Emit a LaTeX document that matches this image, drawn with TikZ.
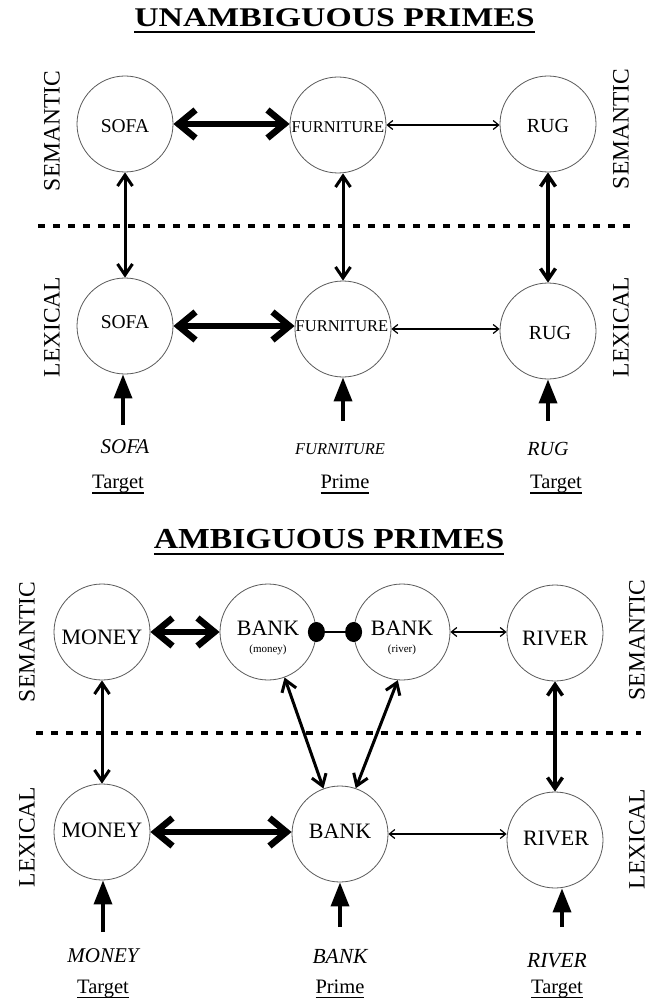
\documentclass[tikz,border=0pt]{standalone}
\usepackage{fontspec}
\setmainfont{Liberation Serif}
\usepackage{graphicx}
\usetikzlibrary{arrows.meta,calc}
\newcommand\myul[3]{\setbox0\hbox{#3}\rlap{\rule[#1]{\wd0}{#2}}\box0}
\newcommand\fsz[1]{\fontsize{#1}{#1}\selectfont}
\begin{document}
\begin{tikzpicture}[x=1pt,y=-1pt]
\tikzset{
  circ/.style={circle, draw=black!65, line width=0.8pt, minimum size=96pt, inner sep=0pt},
  txt/.style={inner sep=0pt},
  thickarr/.style={line width=6.5pt, line join=miter, >={Straight Barb[length=17pt,width=28pt]}, <->},
  medarr/.style={line width=3pt, line join=miter, >={Straight Barb[length=11pt,width=15pt]}, <->},
  thinarr/.style={line width=1.2pt, >={Straight Barb[length=5.5pt,width=9pt]}, <->},
  inarr/.style={line width=3.5pt, arrows={-Triangle[length=24pt,width=18pt]}},
  dotline/.style={line width=2.5pt, arrows={Circle[length=17pt,width=20pt]-Circle[length=17pt,width=20pt]}, shorten <=-8.5pt, shorten >=-8.5pt},
  sep/.style={line width=4pt, dash pattern=on 7pt off 8pt},
  side/.style={inner sep=0pt, rotate=90, font=\fsz{23.5}},
  ttl/.style={inner sep=0pt, anchor=base},
}
\fill[white] (0,0) rectangle (651,1000);
\useasboundingbox (0,0) rectangle (651,1000);

% ---------- titles ----------
\node[ttl] (t1) at (334.5,27) {\scalebox{1.25}[1]{\fsz{27}\bfseries\myul{-6pt}{2pt}{UNAMBIGUOUS PRIMES}}};
\node[ttl] (t2) at (329,548) {\scalebox{1.16}[1]{\fsz{29}\bfseries\myul{-6.5pt}{2pt}{AMBIGUOUS PRIMES}}};

% ---------- side labels ----------
\node[side] (sl1) at (52,131) {SEMANTIC};
\node[side] (ll1) at (52,327) {LEXICAL};
\node[side] (sr1) at (621,129) {SEMANTIC};
\node[side] (lr1) at (621,327) {LEXICAL};
\node[side] (sl2) at (27,642) {SEMANTIC};
\node[side] (ll2) at (27,837) {LEXICAL};
\node[side] (sr2) at (637,640) {SEMANTIC};
\node[side] (lr2) at (637,839) {LEXICAL};

% ---------- separators ----------
\coordinate (d1a) at (38,226); \coordinate (d1b) at (633,226);
\coordinate (d2a) at (36,733); \coordinate (d2b) at (641,733);
\draw[sep] (d1a) -- (d1b);
\draw[sep] (d2a) -- (d2b);

% ---------- top circles ----------
\node[circ] (sofaS) at (125,124) {};
\node[circ] (furnS) at (338,125) {};
\node[circ] (rugS)  at (548,124) {};
\node[circ] (sofaL) at (125,326) {};
\node[circ] (furnL) at (343,329) {};
\node[circ] (rugL)  at (548,331) {};

\node[txt,font=\fsz{19.5}] (sofaSt) at (125,126) {SOFA};
\node[txt,font=\fsz{16.5}] (furnSt) at (338,127) {FURNITURE};
\node[txt,font=\fsz{20}] (rugSt)  at (548,126) {RUG};
\node[txt,font=\fsz{19.5}] (sofaLt) at (125,322) {SOFA};
\node[txt,font=\fsz{16.5}] (furnLt) at (342,326) {FURNITURE};
\node[txt,font=\fsz{20}] (rugLt)  at (550,333) {RUG};

% top connectors
\draw[thickarr] (sofaS.east) -- (furnS.west |- sofaS.east);
\draw[thinarr]  (furnS.east) -- (rugS.west |- furnS.east);
\draw[medarr]   (sofaS.south) -- (sofaL.north);
\draw[medarr]   (furnL.north |- furnS.south) -- (furnL.north);
\draw[medarr,line width=3.5pt] (rugS.south) -- (rugL.north);
\draw[thickarr] (sofaL.east) -- (furnL.west |- sofaL.east);
\draw[thinarr]  (furnL.east) -- (rugL.west |- furnL.east);

% top inputs
\coordinate (sofaIn) at (123,425);
\coordinate (furnIn) at (343,421);
\coordinate (rugIn)  at (548,421);
\draw[inarr] (sofaIn) -- (sofaIn |- sofaL.south);
\draw[inarr] (furnIn) -- (furnIn |- furnL.south);
\draw[inarr] (rugIn)  -- (rugIn |- rugL.south);

% top labels
\node[ttl,font=\fsz{21}\itshape] (sofaW) at (125,453) {SOFA};
\node[ttl,font=\fsz{16.5}\itshape] (furnW) at (340,454) {FURNITURE};
\node[ttl,font=\fsz{20}\itshape] (rugW) at (548,455) {RUG};
\node[ttl,font=\fsz{20.5}] (tg1) at (118,488) {\myul{-5.5pt}{1.3pt}{Target}};
\node[ttl,font=\fsz{20.5}] (pr1) at (345,488) {\myul{-5.5pt}{1.3pt}{Prime}};
\node[ttl,font=\fsz{20.5}] (tg2) at (556,488) {\myul{-5.5pt}{1.3pt}{Target}};

% ---------- bottom circles ----------
\node[circ] (moneyS) at (102,632) {};
\node[circ] (bankmS) at (268,632) {};
\node[circ] (bankrS) at (402,632) {};
\node[circ] (riverS) at (555,633) {};
\node[circ] (moneyL) at (102,832) {};
\node[circ] (bankL)  at (340,834) {};
\node[circ] (riverL) at (555,840) {};

\node[txt,font=\fsz{22}] (moneySt) at (102,637) {MONEY};
\node[txt,font=\fsz{22}] (bankmSt) at (268,640) {\begin{tabular}{@{}c@{}}BANK\\[-5pt]{\fsz{11}(money)}\end{tabular}};
\node[txt,font=\fsz{22}] (bankrSt) at (402,640) {\begin{tabular}{@{}c@{}}BANK\\[-5pt]{\fsz{11}(river)}\end{tabular}};
\node[txt,font=\fsz{22}] (riverSt) at (555,638) {RIVER};
\node[txt,font=\fsz{22}] (moneyLt) at (102,830) {MONEY};
\node[txt,font=\fsz{22}] (bankLt)  at (340,831) {BANK};
\node[txt,font=\fsz{22}] (riverLt) at (556,838) {RIVER};

% bottom connectors
\draw[thickarr] (moneyS.east) -- (bankmS.west);
\draw[dotline]  (bankmS.east) -- (bankrS.west);
\draw[thinarr]  (bankrS.east) -- (riverS.west |- bankrS.east);
\draw[medarr]   (moneyS.south) -- (moneyL.north);
\draw[medarr]   (bankmS.-70) -- (bankL.110);
\draw[medarr]   (bankrS.-95) -- (bankL.71);
\draw[medarr,line width=3.5pt] (riverS.south) -- (riverL.north);
\draw[thickarr] (moneyL.east) -- (bankL.west |- moneyL.east);
\draw[thinarr]  (bankL.east) -- (riverL.west |- bankL.east);

% bottom inputs
\coordinate (moneyIn) at (103,932);
\coordinate (bankIn)  at (340,927);
\coordinate (riverIn) at (562,927);
\draw[inarr] (moneyIn) -- (moneyIn |- moneyL.south);
\draw[inarr] (bankIn)  -- (bankIn |- bankL.south);
\draw[inarr] (riverIn) -- (riverIn |- riverL.south);

% bottom labels
\node[ttl,font=\fsz{21}\itshape] (moneyW) at (103,962) {MONEY};
\node[ttl,font=\fsz{21.5}\itshape] (bankW) at (340,963) {BANK};
\node[ttl,font=\fsz{21.5}\itshape] (riverW) at (557,967) {RIVER};
\node[ttl,font=\fsz{20.5}] (tg3) at (103,993) {\myul{-5pt}{1.3pt}{Target}};
\node[ttl,font=\fsz{20.5}] (pr2) at (340,993) {\myul{-5pt}{1.3pt}{Prime}};
\node[ttl,font=\fsz{20.5}] (tg4) at (557,993) {\myul{-5pt}{1.3pt}{Target}};
\end{tikzpicture}
\end{document}
